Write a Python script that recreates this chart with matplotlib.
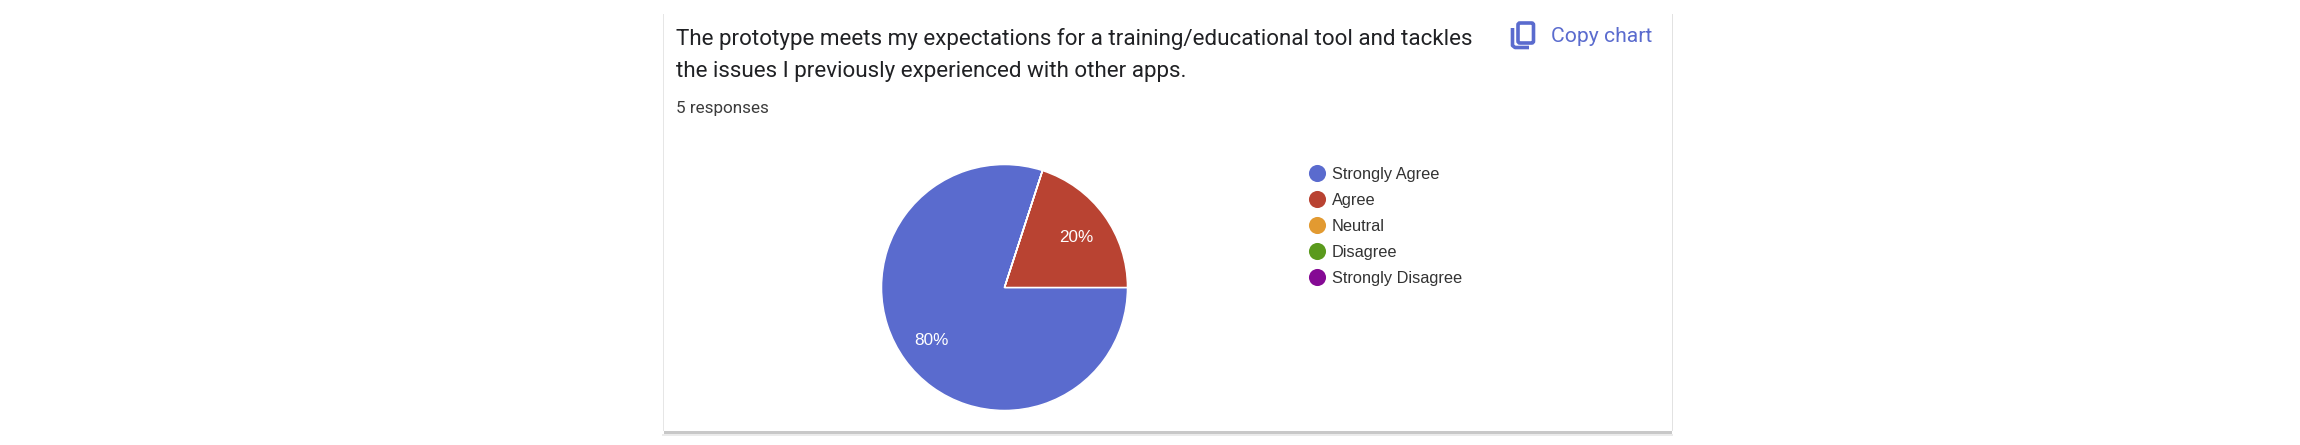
#!/usr/bin/env python3
"""Google Forms style response card with a pie chart."""
import matplotlib
matplotlib.use("Agg")
import matplotlib.pyplot as plt
from matplotlib.patches import Rectangle, FancyBboxPatch

W, H = 2300, 445
title_lines = ["The prototype meets my expectations for a training/educational tool and tackles",
               "the issues I previously experienced with other apps."]
subtitle = "5 responses"
copy_label = "Copy chart"
labels = ["Strongly Agree", "Agree", "Neutral", "Disagree", "Strongly Disagree"]
values = [80, 20, 0, 0, 0]
colors = ["#5a6bce", "#b94332", "#e29a31", "#5a9a1c", "#850a94"]
ACCENT = "#5a6bce"

fig = plt.figure(figsize=(W/100, H/100), dpi=100, facecolor="white")

# page layer in pixel coords, y pointing down
bg = fig.add_axes([0, 0, 1, 1]); bg.set_xlim(0, W); bg.set_ylim(H, 0); bg.axis("off")
bg.add_patch(Rectangle((662.5, 14), 1, 417, fc="#e6e6e6", ec="none"))
bg.add_patch(Rectangle((1671.5, 14), 1.5, 417, fc="#e2e2e2", ec="none"))
bg.add_patch(Rectangle((664, 430.5), 1008, 3, fc="#c8c8c8", ec="none"))
bg.add_patch(Rectangle((662, 433.5), 1011, 2, fc="#ebebeb", ec="none"))

for y, line in zip([39, 71.5], title_lines):
    bg.text(676, y, line, family="Roboto", fontsize=16.1, color="#202124", va="center", ha="left")
bg.text(676, 108, subtitle, family="Roboto", fontsize=12.3, color="#3c3c3c", va="center", ha="left")

# copy icon + label
bg.add_patch(FancyBboxPatch((1518, 23), 15.5, 20, boxstyle="round,pad=0,rounding_size=2",
                            fc="none", ec=ACCENT, lw=2.6))
bg.plot([1512.5, 1512.5, 1515, 1529], [28, 45.5, 47.5, 47.5], color=ACCENT, lw=2.6, solid_capstyle="butt")
bg.text(1551, 36, copy_label, family="Roboto", fontsize=15.2, color=ACCENT, va="center", ha="left")

# pie, radius 123 px around (1004.5, 287.5)
R = 123
ax = fig.add_axes([(1004.5-R)/W, 1-(287.5+R)/H, 2*R/W, 2*R/H])
wedges, _ = ax.pie(values, colors=colors, startangle=72, counterclock=True, radius=1,
                   wedgeprops=dict(edgecolor="white", linewidth=1.1))
ax.set_xlim(-1, 1); ax.set_ylim(-1, 1)
for patch in wedges:
    patch.set_clip_on(False)
ax.text(0.58, 0.41, "20%", family="Liberation Sans", fontsize=12.3, color="white", ha="center", va="center")
ax.text(-0.59, -0.43, "80%", family="Liberation Sans", fontsize=12.3, color="white", ha="center", va="center")

# legend drawn by hand to keep the row spacing of the source
for i, (lab, c) in enumerate(zip(labels, colors)):
    bg.plot([1316.5], [172.8 + 26*i], "o", ms=12.3, color=c, mec="none")
    bg.text(1332, 174.2 + 26*i, lab, family="Liberation Sans", fontsize=11.75, color="#333333", va="center", ha="left")

fig.savefig("out.png", dpi=100)
